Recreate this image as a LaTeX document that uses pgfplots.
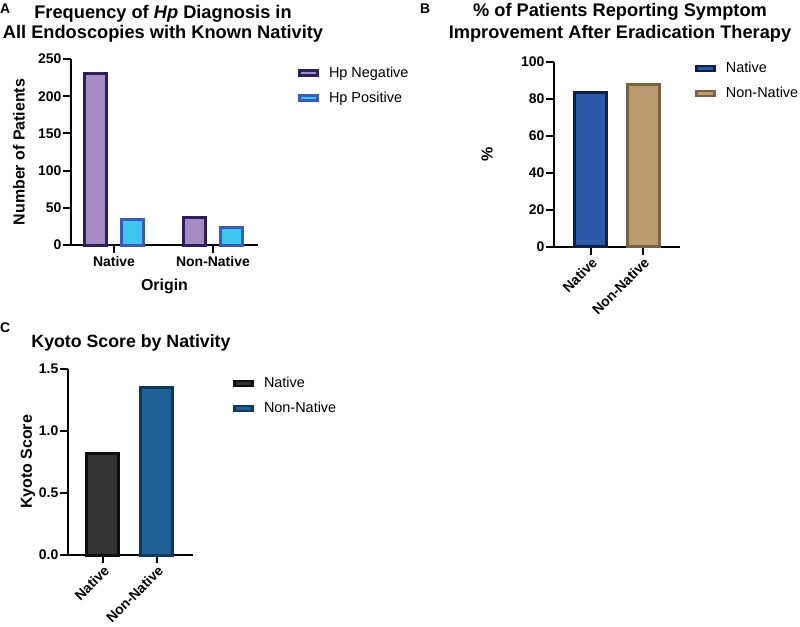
\documentclass[border=0pt]{standalone}
\usepackage{pgfplots}
\pgfplotsset{compat=1.18}
\usepackage{fontspec}
\setmainfont{Liberation Sans}
\definecolor{negF}{RGB}{165,138,196}
\definecolor{negS}{RGB}{45,30,92}
\definecolor{posF}{RGB}{62,198,240}
\definecolor{posS}{RGB}{58,92,184}
\definecolor{natF}{RGB}{44,90,168}
\definecolor{natS}{RGB}{14,30,70}
\definecolor{nonF}{RGB}{185,157,112}
\definecolor{nonS}{RGB}{122,100,64}
\definecolor{cnatF}{RGB}{51,51,51}
\definecolor{cnatS}{RGB}{15,15,15}
\definecolor{cnonF}{RGB}{30,98,150}
\definecolor{cnonS}{RGB}{16,56,88}
\pgfplotsset{
  leg/.style={legend image code/.code={\draw[##1, line width=2.3bp] (0bp,-2.5bp) rectangle (18bp,2.5bp);}},
  gp/.style={
    scale only axis, clip=false,
    axis lines*=left, tick align=outside,
    major tick length=8bp,
    tick style={line width=2bp, black},
    axis line style={line width=2bp, black},
    tick label style={font=\bfseries\fontsize{14}{14}\selectfont},
    yticklabel style={inner xsep=1.5bp},
    /pgf/number format/assume math mode=true,
    label style={font=\bfseries\fontsize{16}{16}\selectfont},
    title style={font=\bfseries\fontsize{18.3}{21}\selectfont, align=center, anchor=center},
    legend style={draw=none, fill=none, font=\fontsize{14.5}{14.5}\selectfont,
      anchor=north west, inner sep=0pt, row sep=11bp, column sep=10.5bp,
      nodes={inner sep=0pt, text height=11bp, text depth=3bp}},
    legend cell align=left,
    ymin=0, xtick={0,1}, ybar,
  }
}
\begin{document}
\begin{tikzpicture}
\useasboundingbox (0,0) rectangle (800bp,-627bp);
% Panel labels
\node[anchor=base west, inner sep=0pt, font=\bfseries\fontsize{14}{14}\selectfont] at (0bp,-13bp) {A};
\node[anchor=base west, inner sep=0pt, font=\bfseries\fontsize{14}{14}\selectfont] at (420bp,-13bp) {B};
\node[anchor=base west, inner sep=0pt, font=\bfseries\fontsize{14}{14}\selectfont] at (0bp,-332bp) {C};

% Panel A
\begin{axis}[gp,
  at={(71bp,-245bp)}, anchor=south west, width=187bp, height=186bp,
  xmin=-0.434, xmax=1.455, ymax=250, ytick={0,50,...,250},
  xticklabels={Native,Non-Native},
  bar width=21.5bp,
  xlabel={Origin}, ylabel={Number of Patients},
  xlabel style={at={(axis description cs:0.5,-0.22)}, anchor=center},
  ylabel style={at={(axis description cs:-0.278,0.5)}, anchor=center},
  title={Frequency of \textit{Hp} Diagnosis in\\All Endoscopies with Known Nativity},
  title style={at={(axis description cs:0.492,1.1575)}, font=\bfseries\fontsize{18.3}{20}\selectfont},
  legend style={at={(axis description cs:1.214,0.963)}},
]
\addplot[leg, fill=negF, draw=negS, line width=3bp, bar shift=-18.5bp] coordinates {(0,230) (1,37)};
\addplot[leg, fill=posF, draw=posS, line width=3bp, bar shift=18.5bp] coordinates {(0,34) (1,24)};
\legend{Hp Negative, Hp Positive}
\end{axis}

% Panel B
\begin{axis}[gp,
  at={(554bp,-246.7bp)}, anchor=south west, width=126bp, height=185bp,
  xmin=-0.71, xmax=1.71, ymax=100, ytick={0,20,...,100},
  xticklabels={Native,Non-Native},
  xticklabel style={rotate=45, anchor=north east, inner sep=1bp},
  bar width=32bp,
  ylabel={\%},
  ylabel style={at={(axis description cs:-0.53,0.5)}, anchor=center},
  title={\% of Patients Reporting Symptom\\Improvement After Eradication Therapy},
  title style={at={(axis description cs:0.524,1.177)}, font=\bfseries\fontsize{18.3}{21.7}\selectfont},
  legend style={at={(axis description cs:1.119,1.004)}},
]
\addplot[leg, fill=natF, draw=natS, line width=3bp, bar shift=0bp] coordinates {(0,83.3)};
\addplot[leg, fill=nonF, draw=nonS, line width=3bp, bar shift=0bp] coordinates {(1,87.5)};
\legend{Native, Non-Native}
\end{axis}

% Panel C
\begin{axis}[gp,
  at={(68bp,-555bp)}, anchor=south west, width=125bp, height=186bp,
  xmin=-0.648, xmax=1.667, ymax=1.5, ytick={0,0.5,1,1.5},
  yticklabel style={/pgf/number format/.cd, fixed, fixed zerofill, precision=1},
  xticklabels={Native,Non-Native},
  xticklabel style={rotate=45, anchor=north east, inner sep=1bp},
  bar width=32bp,
  ylabel={Kyoto Score},
  ylabel style={at={(axis description cs:-0.32,0.5)}, anchor=center},
  title={Kyoto Score by Nativity},
  title style={at={(axis description cs:0.504,1.086)}, anchor=base, font=\bfseries\fontsize{17.8}{20}\selectfont},
  legend style={at={(axis description cs:1.32,0.961)}},
]
\addplot[leg, fill=cnatF, draw=cnatS, line width=3bp, bar shift=0bp] coordinates {(0,0.82)};
\addplot[leg, fill=cnonF, draw=cnonS, line width=3bp, bar shift=0bp] coordinates {(1,1.35)};
\legend{Native, Non-Native}
\end{axis}
\end{tikzpicture}
\end{document}
